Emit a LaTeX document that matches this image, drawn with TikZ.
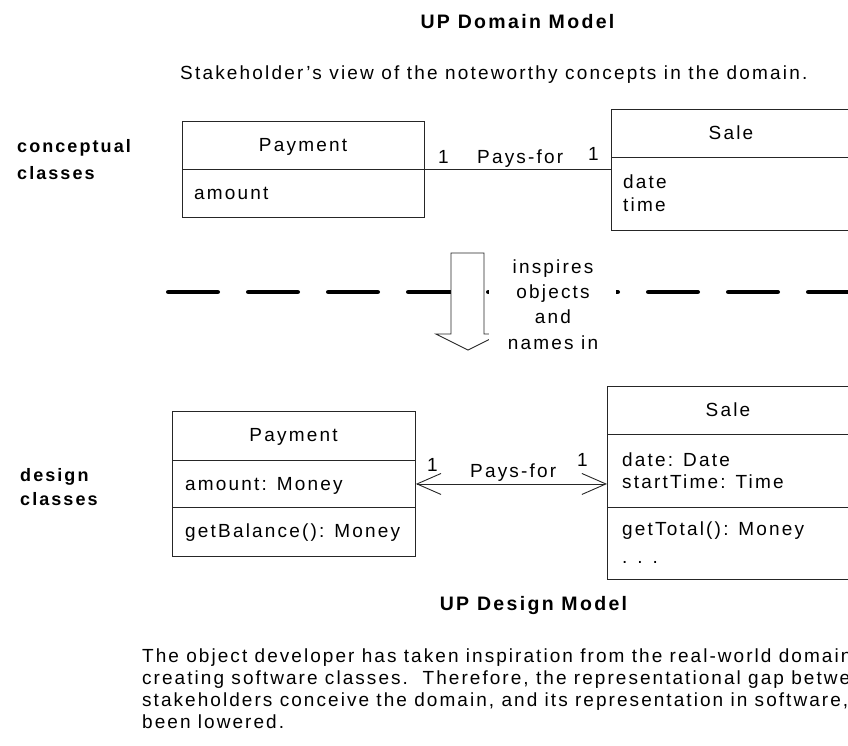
\documentclass[tikz,border=0pt]{standalone}
\usepackage{fontspec}
\setmainfont{Liberation Sans}[LetterSpace=11.5]
\usetikzlibrary{arrows.meta}
\tikzset{umlbarb/.tip={Straight Barb[length=24pt, width=21pt, line width=0.9pt]}}
\begin{document}
\begin{tikzpicture}[x=1pt,y=-1pt,
  txt/.style={font=\fontsize{19}{22.5}\selectfont, inner sep=0pt},
  ptxt/.style={font=\fontsize{19}{22.5}\selectfont\addfontfeature{LetterSpace=10.8}, inner sep=0pt},
  btxt/.style={font=\fontsize{18}{25}\selectfont\bfseries, inner sep=0pt},
  ttl/.style={font=\fontsize{19.5}{25}\selectfont\bfseries\addfontfeature{LetterSpace=12}, inner sep=0pt},
  umlbox/.style={draw=black!85, line width=0.9pt, fill=white, rectangle, inner sep=0pt, anchor=north west},
  divider/.style={draw=black!85, line width=0.9pt},
  assoc/.style={draw=black!85, line width=0.9pt}
]
\useasboundingbox (0,0) rectangle (848,745);
\clip (0,0) rectangle (848,745);

% titles
\node[ttl, anchor=base] (t1) at (517.5,28.3) {UP Domain Model};
\node[txt, anchor=base west] (t2) at (180,79) {Stakeholder's view of the noteworthy concepts in the domain.};
\node[btxt, anchor=base west] (lc1) at (17,152.3) {conceptual};
\node[btxt, anchor=base west] (lc2) at (17,179.3) {classes};
\node[btxt, anchor=base west] (ld1) at (20,481) {design};
\node[btxt, anchor=base west] (ld2) at (20,505.7) {classes};

% conceptual classes
\node[umlbox, minimum width=242pt, minimum height=96pt] (pay1) at (182,121) {};
\draw[divider] (182,169) -- (424,169);
\node[txt, anchor=base] (pay1n) at (303,151.5) {Payment};
\node[txt, anchor=base west] (pay1a) at (194,199) {amount};

\node[umlbox, minimum width=300pt, minimum height=121pt] (sale1) at (611,109) {};
\draw[divider] (611,157) -- (911,157);
\node[txt, anchor=base] (sale1n) at (731,139.5) {Sale};
\node[txt, anchor=base west] (sale1a) at (623,188) {date};
\node[txt, anchor=base west] (sale1b) at (623,211) {time};

\draw[assoc] (pay1.east) -- (sale1.west |- pay1.east);
\node[txt, anchor=base west] (m1) at (438,163.3) {1};
\node[txt, anchor=base west] (pf1) at (477,163.3) {Pays-for};
\node[txt, anchor=base west] (m2) at (588,160) {1};

% dashed separator
\draw[line width=4.5pt, line cap=round, dash pattern=on 49.5pt off 30.5pt] (168.25,292) -- (900,292);

% big arrow
\filldraw[fill=white, draw=black!85, line width=0.9pt]
  (451,253) -- (484,253) -- (484,334) -- (500,334) -- (468,350) -- (436,334) -- (451,334) -- cycle;
\node[txt, fill=white, minimum width=127pt, minimum height=86pt] (insp) at (552.5,306) {};
\node[txt, anchor=base] (i1) at (553,273.3) {inspires};
\node[txt, anchor=base] (i2) at (553,298.3) {objects};
\node[txt, anchor=base] (i3) at (553,323.3) {and};
\node[txt, anchor=base] (i4) at (553,349.3) {names in};

% design classes
\node[umlbox, minimum width=243pt, minimum height=145pt] (pay2) at (172,411) {};
\draw[divider] (172,460) -- (415,460);
\draw[divider] (172,507) -- (415,507);
\node[txt, anchor=base] (pay2n) at (293.5,441.7) {Payment};
\node[txt, anchor=base west] (pay2a) at (185,490) {amount: Money};
\node[txt, anchor=base west] (pay2o) at (185,537) {getBalance(): Money};

\node[umlbox, minimum width=300pt, minimum height=193pt] (sale2) at (607,386) {};
\draw[divider] (607,434) -- (907,434);
\draw[divider] (607,507) -- (907,507);
\node[txt, anchor=base] (sale2n) at (728,416) {Sale};
\node[txt, anchor=base west] (sale2a) at (622,466) {date: Date};
\node[txt, anchor=base west] (sale2b) at (622,488.3) {startTime: Time};
\node[txt, anchor=base west] (sale2o) at (622,535) {getTotal(): Money};
\node[txt, anchor=base west] (sale2d) at (622,563.3) {. . .};

\draw[assoc, umlbarb-umlbarb] (pay2.east) -- (sale2.west |- pay2.east);
\node[txt, anchor=base west] (m3) at (427,471.7) {1};
\node[txt, anchor=base west] (pf2) at (470,477.7) {Pays-for};
\node[txt, anchor=base west] (m4) at (577,466) {1};

\node[ttl, anchor=base] (t3) at (533.5,610) {UP Design Model};

% bottom paragraph
\node[ptxt, anchor=base west] (p1) at (142,662) {The object developer has taken inspiration from the real-world domain in};
\node[ptxt, anchor=base west] (p2) at (142,684) {creating software classes.\ \ Therefore, the representational gap between how};
\node[ptxt, anchor=base west] (p3) at (142,706) {stakeholders conceive the domain, and its representation in software, has};
\node[ptxt, anchor=base west] (p4) at (142,728) {been lowered.};
\end{tikzpicture}
\end{document}
